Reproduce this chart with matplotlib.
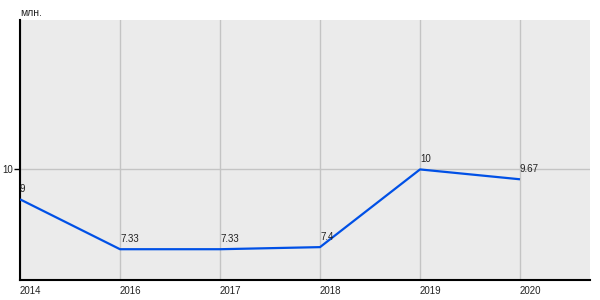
import matplotlib
matplotlib.use("Agg")
import matplotlib.pyplot as plt

years = ["2014", "2016", "2017", "2018", "2019", "2020"]
values = [9, 7.33, 7.33, 7.4, 10, 9.67]
labels = ["9", "7.33", "7.33", "7.4", "10", "9.67"]

plt.rcParams['font.family'] = ['Liberation Sans', 'DejaVu Sans']

fig = plt.figure(figsize=(6, 3), dpi=100)
ax = fig.add_axes([20/600, 20/300, 570/600, 260/300])
ax.set_facecolor('#ebebeb')

x = list(range(len(years)))
ax.plot(x, values, color='#0050e6', lw=1.6, solid_capstyle='butt', zorder=3)
for xi, v, t in zip(x, values, labels):
    ax.text(xi, v + 0.18, t, fontsize=7, color='#222222', ha='left', va='bottom', zorder=4)

ax.set_xlim(0, 5.7)
ax.set_ylim(6.3, 15)
ax.set_xticks(x)
ax.set_xticklabels(years, fontsize=7, color='#222222', ha='left')
ax.set_yticks([10])
ax.set_yticklabels(["10"], fontsize=7, color='#222222')
ax.tick_params(axis='x', length=0, pad=4)
ax.tick_params(axis='y', length=4, width=1, pad=1)
ax.grid(True, color='#c4c4c4', lw=1)
ax.set_axisbelow(True)

for s in ['top', 'right']:
    ax.spines[s].set_visible(False)
for s in ['left', 'bottom']:
    ax.spines[s].set_color('black')
    ax.spines[s].set_linewidth(1.5)

fig.text(20/600, 1 - 13/300, "млн.", fontsize=7.5, color='#222222', ha='left', va='center')

fig.savefig("out.png", dpi=100)
